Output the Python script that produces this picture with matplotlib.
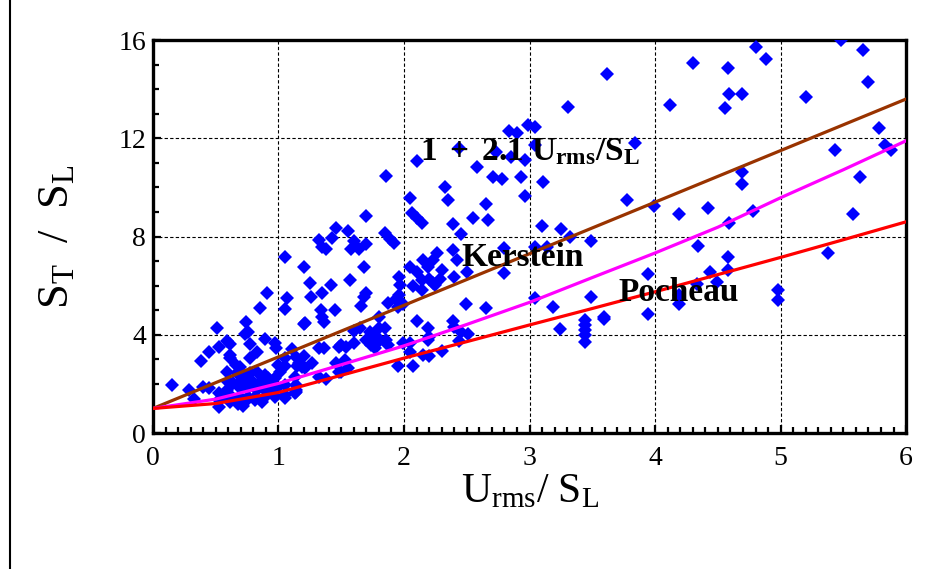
import matplotlib; matplotlib.use("Agg")
import matplotlib.pyplot as plt
import numpy as np
from matplotlib.ticker import MultipleLocator

plt.rcParams["font.family"] = ["Liberation Serif", "DejaVu Serif"]
plt.rcParams["mathtext.fontset"] = "custom"
plt.rcParams["mathtext.rm"] = "Liberation Serif"
plt.rcParams["mathtext.it"] = "Liberation Serif:italic"
plt.rcParams["mathtext.bf"] = "Liberation Serif:bold"

# measured turbulent flame speeds
urms = [4.80, 4.88, 4.58, 4.59, 4.69, 4.56, 5.20, 5.48, 5.66, 5.70, 5.78, 5.83, 5.88, 5.43, 4.69, 4.69, 5.63, 4.78, 4.59, 5.58, 4.42,
        4.30, 3.62, 3.31, 4.12, 2.99, 3.04, 3.84, 3.04, 2.96, 2.93, 3.11, 2.96, 3.78, 3.99, 4.19, 3.10, 3.25,
        2.84, 2.90, 2.44, 2.10, 2.73, 2.85, 2.58, 1.86, 2.71, 2.78,
        2.33, 2.05, 2.35, 2.65, 2.06, 2.10, 2.14, 1.70, 2.55, 2.67, 2.39, 1.46, 1.55, 1.85, 2.45,
        1.32, 1.35, 1.38, 1.43, 1.60, 1.58, 1.64, 1.70, 1.89, 1.92, 1.20, 1.68, 1.25, 1.42, 1.57, 1.26, 1.35,
        1.70, 1.68, 1.66, 1.45, 1.34, 1.35, 1.36, 1.21, 1.80, 1.87, 1.96, 1.97, 1.96, 1.94, 1.95, 1.99,
        2.05, 2.10, 2.15, 2.19, 2.23, 2.26, 2.20, 2.14, 2.25, 2.30, 2.29, 2.39, 2.40, 2.07, 2.14, 2.42,
        2.80, 2.80, 2.49, 2.65, 3.04, 2.10, 2.39, 2.40,
        2.23, 2.50, 1.65, 1.60, 1.73, 1.80, 1.85, 1.50, 1.54, 1.60, 1.70, 1.74, 1.77, 1.81, 1.86, 1.78, 1.87,
        1.99, 2.05, 2.05, 2.19, 2.20, 2.19, 2.15, 2.20, 2.30, 2.45, 2.51, 2.44, 1.95, 2.07, 1.53, 1.50, 1.55,
        1.05, 0.91, 1.07, 0.85, 1.05, 0.74, 0.76, 0.73, 1.20, 0.51, 0.59, 0.61, 0.53, 0.45, 0.38, 0.77, 0.89,
        0.83, 0.97, 0.98, 0.77, 0.61, 0.61, 1.05, 1.05, 1.11, 1.15, 1.16, 1.20, 1.19, 1.27, 0.66, 0.69, 0.59,
        0.15, 0.29, 0.33, 0.40, 0.45, 0.53, 0.53, 0.53, 1.32, 1.38, 1.13, 1.14, 1.13, 1.05, 1.05, 1.48, 1.48,
        1.14, 1.21, 1.32, 1.36, 1.46, 1.14, 1.14, 1.05, 1.01, 1.00,
        0.67, 0.72, 0.77, 0.83, 0.89, 0.92, 0.97, 0.60, 0.64, 0.69, 0.75, 0.80, 0.85, 0.91, 0.96, 0.99, 0.69,
        0.76, 0.83, 0.89, 0.95, 0.59, 0.57, 0.63, 0.69, 0.76, 0.81, 0.89, 0.97, 0.61, 0.68, 0.73, 0.81, 0.87, 0.72,
        3.32, 3.49, 3.04, 3.14, 4.34, 3.19, 3.49, 3.24, 3.44, 3.44, 3.44, 3.44, 3.44, 3.59, 3.59, 3.94, 3.94,
        4.19, 4.19, 4.33, 4.44, 4.58, 4.58, 4.49, 4.98, 4.98, 5.38]
st = [15.73, 15.23, 14.87, 13.80, 13.80, 13.25, 13.67, 16.00, 15.60, 14.30, 12.43, 11.73, 11.52, 11.52, 10.64, 10.12, 10.44, 9.04, 8.54, 8.93, 9.16,
      15.07, 14.60, 13.26, 13.34, 12.54, 12.45, 11.82, 11.73, 11.12, 10.44, 10.22, 9.64, 9.50, 9.23, 8.90, 8.44, 8.29,
      12.30, 12.20, 11.62, 11.07, 11.43, 11.23, 10.83, 10.48, 10.41, 10.33,
      10.02, 9.58, 9.47, 9.31, 8.95, 8.74, 8.56, 8.85, 8.74, 8.66, 8.52, 8.33, 8.22, 8.14, 8.10,
      7.86, 7.59, 7.48, 7.95, 7.82, 7.50, 7.48, 7.68, 7.90, 7.72, 6.77, 6.75, 6.12, 6.01, 6.23, 5.53, 5.71,
      5.71, 5.53, 5.18, 5.01, 5.01, 4.74, 4.53, 4.47, 4.74, 5.31, 6.36, 6.03, 5.62, 5.44, 5.14, 5.25,
      6.77, 6.54, 7.04, 6.77, 7.04, 7.34, 6.29, 6.23, 6.03, 6.64, 6.26, 7.45, 6.34, 5.97, 5.82, 7.04,
      7.52, 6.53, 5.25, 5.09, 5.48, 4.55, 4.55, 4.33,
      6.12, 6.57, 4.26, 4.17, 4.12, 4.26, 4.26, 3.58, 3.51, 3.65, 3.79, 3.58, 3.45, 3.79, 3.79, 3.92, 3.58,
      3.65, 3.65, 3.31, 4.26, 3.92, 3.79, 3.18, 3.14, 3.35, 4.12, 4.03, 3.75, 2.73, 2.73, 2.97, 2.50, 2.66,
      7.15, 5.69, 5.51, 5.08, 5.04, 4.53, 4.12, 4.03, 4.44, 4.26, 3.76, 3.62, 3.51, 3.31, 2.93, 3.62, 3.82,
      3.31, 3.65, 3.45, 3.04, 3.18, 3.05, 3.04, 2.73, 3.41, 2.73, 2.84, 3.14, 2.70, 2.86, 2.77, 2.70, 2.50,
      1.95, 1.75, 1.38, 1.86, 1.82, 1.62, 1.34, 1.07, 2.29, 2.20, 2.29, 1.75, 1.62, 1.95, 1.41, 3.51, 2.50,
      3.11, 2.63, 3.45, 3.45, 2.84, 1.95, 1.68, 1.55, 2.50, 2.77,
      2.43, 2.36, 2.43, 2.50, 2.36, 2.23, 2.23, 2.09, 2.02, 2.09, 2.09, 2.09, 2.09, 1.95, 1.95, 1.82, 1.82,
      1.82, 1.75, 1.75, 1.68, 1.75, 1.55, 1.48, 1.48, 1.48, 1.48, 1.48, 1.48, 1.27, 1.20, 1.27, 1.34, 1.27, 1.10,
      7.99, 7.83, 7.59, 7.59, 7.61, 5.14, 5.53, 4.25, 4.60, 4.40, 4.19, 3.99, 3.72, 4.74, 4.63, 6.46, 4.85,
      5.25, 5.62, 6.07, 6.57, 7.15, 6.64, 6.14, 5.82, 5.42, 7.32]

# model curves
model_u = [0.0, 0.5, 1.0, 1.5, 2.0, 2.5, 3.0, 3.5, 4.0, 4.5, 5.0, 5.5, 6.0]
kerstein = [1.0, 1.38, 2.02, 2.78, 3.55, 4.42, 5.32, 6.33, 7.33, 8.38, 9.58, 10.72, 11.9]
pocheau = [1.0, 1.2, 1.65, 2.35, 3.05, 3.72, 4.4, 5.07, 5.75, 6.45, 7.15, 7.87, 8.6]
fit_u = [0.0, 6.0]

fig = plt.figure(figsize=(9.27, 5.69), dpi=100)
ax = fig.add_axes([0.165, 0.239, 0.8125, 0.6906])

ax.plot(urms, st, "D", color="#0000FF", markersize=7.3, markeredgewidth=0, zorder=3)
ax.plot(fit_u, [1 + 2.1 * u for u in fit_u], color="#993300", lw=2.3, zorder=4)
ax.plot(model_u, kerstein, color="#FF00FF", lw=2.3, zorder=4)
ax.plot(model_u, pocheau, color="#FF0000", lw=2.3, zorder=4)

ax.set_xlim(0, 6); ax.set_ylim(0, 16)
ax.xaxis.set_major_locator(MultipleLocator(1)); ax.xaxis.set_minor_locator(MultipleLocator(0.1))
ax.yaxis.set_major_locator(MultipleLocator(4)); ax.yaxis.set_minor_locator(MultipleLocator(1))
ax.tick_params(which="both", direction="in", width=1.6, labelsize=20)
ax.tick_params(which="major", length=6)
ax.tick_params(which="minor", length=4)
ax.tick_params(axis="x", which="major", pad=9)
ax.tick_params(axis="y", which="major", pad=5)
ax.grid(True, which="major", color="black", lw=0.8, ls=(0, (3, 2)))
for s in ax.spines.values():
    s.set_linewidth(2.4)

ax.set_xlabel(r"$\mathrm{U_{rms}/\ S_L}$", fontsize=30, labelpad=2)
ax.set_ylabel(r"$\mathrm{S_T\ \ /\ \ S_L}$", fontsize=32, labelpad=30)

ax.text(2.13, 11.44, r"$\mathbf{1\ +\ 2.1\ U_{rms}/S_L}$", fontsize=24, va="center", zorder=5)
ax.text(2.46, 7.13, "Kerstein", fontsize=24, fontweight="bold", va="center", zorder=5)
ax.text(3.71, 5.74, "Pocheau", fontsize=24, fontweight="bold", va="center", zorder=5)

fig.add_artist(plt.Line2D([0.011, 0.011], [0, 1], color="black", lw=1.5))
fig.savefig("out.png", dpi=100)
